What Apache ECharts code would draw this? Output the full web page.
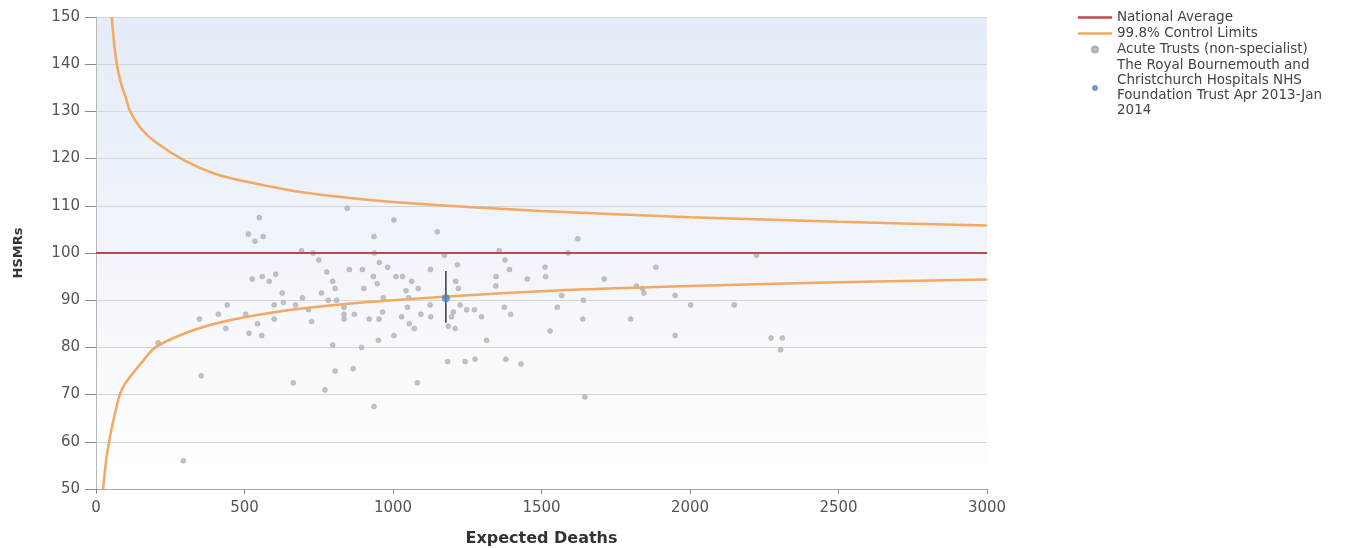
<!DOCTYPE html>
<html>
<head>
<meta charset="utf-8">
<script src="https://cdn.jsdelivr.net/npm/echarts@6/dist/echarts.min.js"></script>
<style>html,body{margin:0;padding:0;background:#fff}#c{width:1351px;height:548px}</style>
</head>
<body>
<div id="c"></div>
<script>
// Acute trusts (non-specialist): expected deaths and HSMR
const trustExpected = [209,294,348,354,412,437,442,504,513,515,526,535,544,550,558,560,563,583,600,600,605,627,631,664,672,692,695,715,726,731,750,759,771,777,782,797,797,805,805,810,835,835,835,846,853,866,870,894,897,902,920,934,936,936,937,947,951,953,954,965,967,982,1003,1003,1010,1029,1032,1044,1049,1052,1055,1063,1072,1082,1085,1094,1125,1126,1127,1149,1173,1184,1186,1197,1203,1209,1211,1217,1220,1226,1243,1248,1274,1276,1298,1315,1346,1347,1358,1375,1377,1380,1392,1396,1431,1452,1512,1514,1529,1553,1568,1590,1622,1639,1641,1646,1711,1800,1820,1840,1845,1885,1950,1950,2002,2149,2224,2273,2305,2311];
const trustHsmr = [81,56,86,74,87,84,89,87,104,83,94.5,102.5,85,107.5,82.5,95,103.5,94,89,86,95.5,91.5,89.5,72.5,89,100.5,90.5,88,85.5,100,98.5,91.5,71,96,90,94,80.5,92.5,75,90,88.5,87,86,109.5,96.5,75.5,87,80,96.5,92.5,86,95,103.5,67.5,100,93.5,81.5,86,98,87.5,90.5,97,107,82.5,95,86.5,95,92,88.5,90.5,85,94,84,72.5,92.5,87,89,96.5,86.5,104.5,99.5,77,84.5,86.5,87.5,84,94,97.5,92.5,89,77,88,88,77.5,86.5,81.5,93,95,100.5,88.5,98.5,77.5,96.5,87,76.5,94.5,97,95,83.5,88.5,91,100,103,86,90,69.5,94.5,86,93,92.5,91.5,97,91,82.5,89,89,99.5,82,79.5,82];

// Highlighted trust
const focusExpected = 1178;
const focusHsmr = 90.4;
const focusLow = 85.2;
const focusHigh = 96.2;

// National average
const nationalAverage = 100;

// 99.8% control limits
const upperX = [53,60,70,84,100,115,150,200,300,400,500,700,1000,1500,2000,2500,3000];
const upperY = [150,145,140,136,133,130,126.5,123.5,119.5,116.8,115.2,112.8,110.8,108.9,107.6,106.6,105.8];
const lowerX = [24,34,47,62,80,100,150,200,300,400,500,700,1000,1500,2000,2500,3000];
const lowerY = [50,56,61,65.5,70,72.5,76.5,80,83,85,86.4,88.3,90,91.9,93,93.8,94.4];

const xTicks = [0,500,1000,1500,2000,2500,3000];

const pts = trustExpected.map((x,i)=>[x,trustHsmr[i]]);
const upper = upperX.map((x,i)=>[x,upperY[i]]);
const lower = lowerX.map((x,i)=>[x,lowerY[i]]);

const chart = echarts.init(document.getElementById('c'), null, {renderer:'canvas'});
const orange = '#f4a862';
const red = '#c0474f';
const lineIcon = 'path://M0 0H30V2H0Z';
const focusName = 'The Royal Bournemouth and\nChristchurch Hospitals NHS\nFoundation Trust Apr 2013-Jan\n2014';
chart.setOption({
  animation:false,
  backgroundColor:'#fff',
  grid:{left:96,right:364,top:17,bottom:59,show:true,borderWidth:0,containLabel:false,outerBoundsMode:'none',
    backgroundColor:new echarts.graphic.LinearGradient(0,0,0,1,[{offset:0,color:'#e4ecf7'},{offset:0.75,color:'#f8fafd'},{offset:1,color:'#ffffff'}])},
  legend:{orient:'vertical',left:1073,top:5,itemGap:1,itemWidth:34,itemHeight:6,
    textStyle:{fontFamily:'DejaVu Sans',fontSize:13.5,color:'#444',lineHeight:15},
    data:[
      {name:'National Average',icon:lineIcon},
      {name:'99.8% Control Limits',icon:lineIcon},
      {name:'Acute Trusts (non-specialist)',icon:'circle'},
      {name:focusName,icon:'circle'}
    ]},
  xAxis:{type:'value',min:0,max:3000,interval:500,
    name:'Expected Deaths',nameLocation:'middle',nameGap:42,
    nameTextStyle:{fontFamily:'DejaVu Sans',fontWeight:'bold',fontSize:16,color:'#333'},
    axisLine:{show:true,lineStyle:{color:'#a8a8a8',width:1}},
    axisTick:{show:true,length:5,lineStyle:{color:'#888'}},
    axisLabel:{margin:12,fontFamily:'DejaVu Sans',fontSize:15,color:'#555',formatter:v=>String(v)},
    splitLine:{show:false}},
  yAxis:{type:'value',min:50,max:150,interval:10,
    name:'HSMRs',nameLocation:'middle',nameGap:71,nameRotate:90,
    nameTextStyle:{fontFamily:'DejaVu Sans',fontWeight:'bold',fontSize:13,color:'#333'},
    axisLine:{show:true,lineStyle:{color:'#b8b8b8',width:1}},
    axisTick:{show:true,length:11,lineStyle:{color:'#888'}},
    axisLabel:{margin:16,fontFamily:'DejaVu Sans',fontSize:15,color:'#555'},
    splitLine:{show:true,lineStyle:{color:'#d6d6d6',width:1}}},
  series:[
    {name:'Acute Trusts (non-specialist)',type:'scatter',data:pts,symbol:'circle',symbolSize:5,
      itemStyle:{color:'#b4b4b4',borderColor:'#a0a0a0',borderWidth:0.5},z:2},
    {name:'National Average',type:'line',data:[[0,nationalAverage],[3000,nationalAverage]],
      symbol:'none',lineStyle:{color:red,width:2},itemStyle:{color:red},z:3},
    {name:'99.8% Control Limits',type:'line',data:upper,smooth:0.3,symbol:'none',
      lineStyle:{color:orange,width:2.5},itemStyle:{color:orange},z:3},
    {name:'99.8% Control Limits',type:'line',data:lower,smooth:0.3,symbol:'none',
      lineStyle:{color:orange,width:2.5},itemStyle:{color:orange},z:3},
    {name:'errbar',type:'line',data:[[focusExpected,focusLow],[focusExpected,focusHigh]],symbol:'none',
      lineStyle:{color:'#3a3a3a',width:1.5},z:4},
    {name:focusName,type:'scatter',
      data:[[focusExpected,focusHsmr]],symbolSize:8,itemStyle:{color:'#4a86c8'},z:5}
  ]
});
</script>
</body>
</html>
